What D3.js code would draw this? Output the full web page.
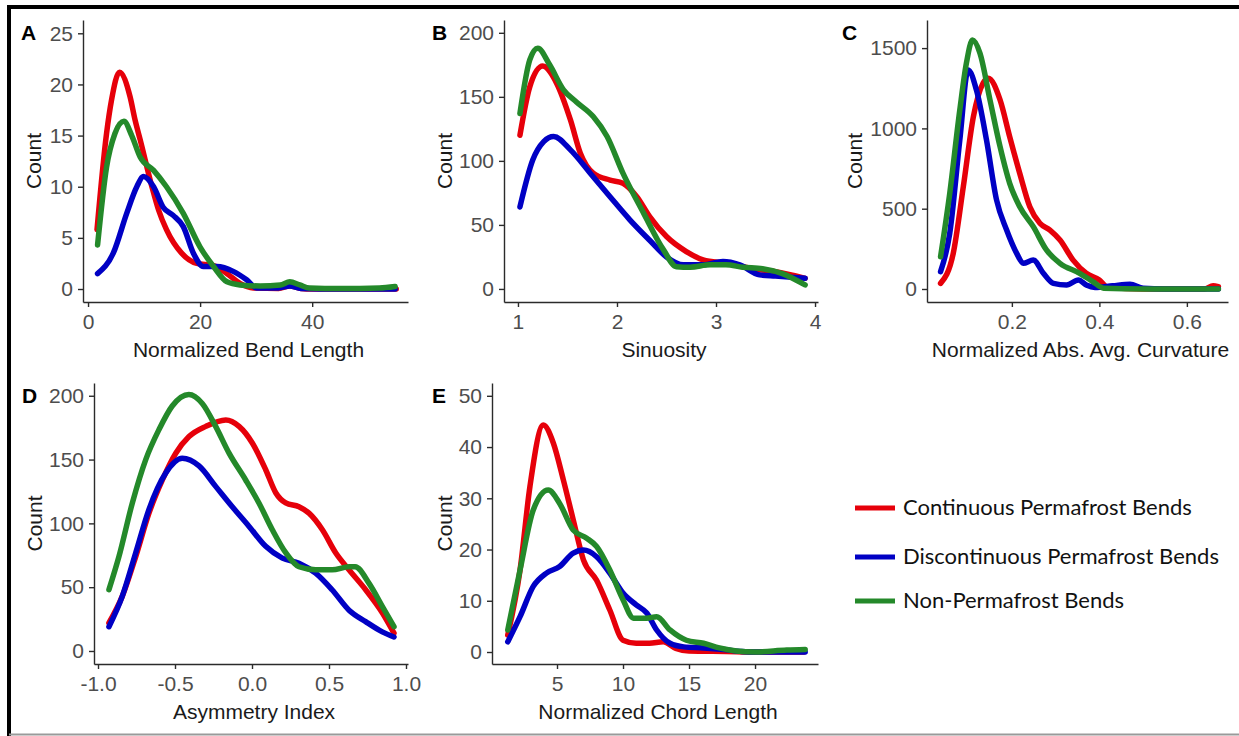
<!DOCTYPE html>
<html>
<head>
<meta charset="utf-8">
<script src="https://cdn.jsdelivr.net/npm/d3@7"></script>
<style>
  body { margin: 0; background: #fff; }
  svg { display: block; }
</style>
</head>
<body>
<svg id="chart" width="1239" height="736"></svg>
<script>
// Series labels and colours (drawn red, blue, then green on top)
const seriesLabels = ["Continuous Permafrost Bends", "Discontinuous Permafrost Bends", "Non-Permafrost Bends"];
const seriesColors = ["#e6000a", "#0000c4", "#24892a"];

// A - Normalized Bend Length, [x, count]
const bendRed = [[1.6,5.8],[3.3,15.2],[4.2,18.5],[5.6,21.2],[7.5,18.8],[8.4,16.5],[9.3,14.6],[11.4,10],[12.6,7.7],[14,5.8],[16.7,3.5],[19.4,2.5],[22.3,2.3],[24.8,1.5],[27.1,0.55],[29.5,0.1],[34,0.05],[36,0.3],[38,0.05],[40,0],[55,0]];
const bendBlue = [[1.7,1.5],[4.5,3.5],[6.9,7.4],[8.7,10],[9.9,11],[11.7,10],[13.4,8],[15.2,7.2],[17,6.1],[18.8,3.5],[20.6,2.2],[23,2.2],[26,1.7],[28.3,0.9],[30.1,0.1],[34,0.1],[36,0.3],[38,0.05],[45,0],[54.8,0]];
const bendGreen = [[1.7,4.3],[3.3,11.9],[4.8,15.2],[6.4,16.4],[7.8,15],[9.3,12.9],[11.7,11.6],[14,10],[17,7.4],[20,4.1],[22.4,2.2],[24.8,0.7],[27.1,0.4],[30.7,0.3],[34.3,0.4],[36,0.7],[37.8,0.4],[39.5,0.1],[45,0.05],[52,0.1],[54.8,0.25]];

// B - Sinuosity
const sinRed = [[1.02,120],[1.12,158],[1.25,174],[1.39,160.7],[1.53,132],[1.63,106],[1.76,90.4],[1.93,85],[2.06,82.5],[2.2,72],[2.33,56.5],[2.5,40.9],[2.7,29.2],[2.87,22.7],[3.1,20],[3.44,15],[3.6,13.5],[3.9,8.3]];
const sinBlue = [[1.02,64],[1.15,100.8],[1.26,115],[1.36,119],[1.53,108.6],[1.73,90.4],[1.93,72],[2.13,54],[2.33,38],[2.5,25],[2.67,18.8],[2.87,18.8],[3.07,21.4],[3.24,18.8],[3.44,11],[3.6,10],[3.9,8.3]];
const sinGreen = [[1.02,137],[1.12,179],[1.2,188],[1.32,175],[1.46,155.5],[1.59,146],[1.76,134.6],[1.9,119],[2.06,90.4],[2.27,59],[2.47,30.5],[2.6,17.4],[2.74,17],[2.94,18.8],[3.1,18.8],[3.27,17],[3.47,15.8],[3.67,12],[3.9,3.1]];

// C - Normalized Abs. Avg. Curvature
const curvRed = [[0.037,35],[0.066,222],[0.089,637],[0.112,1073],[0.134,1281],[0.146,1312],[0.173,1177],[0.195,948],[0.218,720],[0.241,512],[0.264,409],[0.287,367],[0.31,305],[0.34,180],[0.37,98],[0.4,56],[0.42,10],[0.5,0],[0.64,0],[0.66,20],[0.672,15]];
const curvBlue = [[0.037,108],[0.058,347],[0.081,928],[0.1,1364],[0.119,1239],[0.142,928],[0.165,554],[0.188,367],[0.211,222],[0.226,160],[0.249,180],[0.272,98],[0.295,35],[0.325,25],[0.352,56],[0.37,25],[0.39,10],[0.43,20],[0.47,30],[0.5,5],[0.55,0],[0.672,0]];
const curvGreen = [[0.037,201],[0.058,596],[0.081,1115],[0.096,1405],[0.11,1550],[0.127,1468],[0.15,1177],[0.173,886],[0.195,658],[0.218,512],[0.249,388],[0.279,243],[0.31,160],[0.355,98],[0.385,46],[0.41,5],[0.5,0],[0.672,0]];

// D - Asymmetry Index
const asymRed = [[-0.929,22],[-0.842,43],[-0.755,74],[-0.669,108],[-0.582,134],[-0.495,155],[-0.409,168],[-0.3,176],[-0.17,181],[-0.084,176],[0.002,163],[0.089,142],[0.154,124],[0.219,116],[0.305,113],[0.37,108],[0.457,95],[0.543,77],[0.63,63.6],[0.738,48],[0.846,30],[0.922,14]];
const asymBlue = [[-0.929,19],[-0.842,43],[-0.755,77],[-0.669,111],[-0.56,139.5],[-0.453,151],[-0.344,145],[-0.236,129],[-0.128,113],[-0.019,97.6],[0.089,82],[0.197,72.8],[0.305,68.8],[0.413,61],[0.52,48],[0.63,32],[0.738,23],[0.846,15],[0.922,11]];
const asymGreen = [[-0.929,48],[-0.864,74],[-0.777,116],[-0.69,150],[-0.604,173.5],[-0.518,192],[-0.41,201],[-0.323,194],[-0.236,176],[-0.149,155],[-0.041,134],[0.045,116],[0.132,95],[0.219,77],[0.305,66],[0.413,63.6],[0.52,63.6],[0.63,66],[0.67,66],[0.76,53],[0.846,35],[0.922,19]];

// E - Normalized Chord Length
const chordRed = [[1.27,3.3],[2.2,16],[2.95,32.3],[3.96,44.3],[4.72,40.8],[5.48,33.6],[6.23,25.8],[7,18],[8,14],[9,8.2],[10,2.3],[11,1.7],[12,1.7],[13.05,2],[14,0.7],[15,0.2],[17.8,0.1],[20,0],[23.7,0]];
const chordBlue = [[1.27,2],[2.2,6.9],[3.2,12.8],[4.2,15.4],[5.2,16.7],[6.23,19.3],[7,19.9],[8,18.6],[9,15.4],[10,11.5],[11,9.2],[11.8,7.6],[12.55,4.3],[13.56,1.7],[14.6,1],[16.1,0.8],[17.6,0.5],[19,0.1],[20,0],[23.8,0]];
const chordGreen = [[1.27,4.3],[2.2,16],[3.2,27.7],[4.34,31.6],[5.2,29],[6.23,23.8],[7.25,22.2],[8,20.6],[9,16],[10,10.2],[10.8,6.6],[11.8,6.6],[12.55,6.9],[13.56,4.3],[14.8,2.3],[16.1,1.7],[17.3,0.8],[18.6,0.2],[20,0],[22.4,0.4],[23.8,0.5]];

// Tick values
const bendXTicks = [0, 20, 40], bendYTicks = [0, 5, 10, 15, 20, 25];
const sinXTicks = [1, 2, 3, 4], sinYTicks = [0, 50, 100, 150, 200];
const curvXTicks = [0.2, 0.4, 0.6], curvYTicks = [0, 500, 1000, 1500];
const asymXTicks = [-1, -0.5, 0, 0.5, 1], asymYTicks = [0, 50, 100, 150, 200];
const chordXTicks = [5, 10, 15, 20], chordYTicks = [0, 10, 20, 30, 40, 50];

// plain hyphen for negatives, like the original figure
const fmt = spec => d => d3.format(spec)(d).replace("\u2212", "-");

// Panel layout (pixel boxes + visible domains)
const panels = [
  { tag: "A", xTitle: "Normalized Bend Length", series: [bendRed, bendBlue, bendGreen],
    box: { l: 83, r: 408, t: 20, b: 302 }, xDom: [-0.9, 57.1], yDom: [-1.27, 26.3],
    xTicks: bendXTicks, yTicks: bendYTicks, xFmt: fmt("d"), yTitleX: 41 },
  { tag: "B", xTitle: "Sinuosity", series: [sinRed, sinBlue, sinGreen],
    box: { l: 504, r: 818, t: 20, b: 302 }, xDom: [0.859, 4.03], yDom: [-10.2, 210],
    xTicks: sinXTicks, yTicks: sinYTicks, xFmt: fmt("d"), yTitleX: 452 },
  { tag: "C", xTitle: "Normalized Abs. Avg. Curvature", series: [curvRed, curvBlue, curvGreen],
    box: { l: 927, r: 1228, t: 20, b: 302 }, xDom: [0.006, 0.694], yDom: [-81, 1675],
    xTicks: curvXTicks, yTicks: curvYTicks, xFmt: fmt(".1f"), yTitleX: 862 },
  { tag: "D", xTitle: "Asymmetry Index", series: [asymRed, asymBlue, asymGreen],
    box: { l: 94, r: 408, t: 383, b: 664 }, xDom: [-1.026, 1.013], yDom: [-10.2, 210],
    xTicks: asymXTicks, yTicks: asymYTicks, xFmt: fmt(".1f"), yTitleX: 42 },
  { tag: "E", xTitle: "Normalized Chord Length", series: [chordRed, chordBlue, chordGreen],
    box: { l: 492, r: 818, t: 383, b: 664 }, xDom: [0.076, 24.77], yDom: [-2.34, 52.5],
    xTicks: chordXTicks, yTicks: chordYTicks, xFmt: fmt("d"), yTitleX: 452 },
];

const FONT = "'Liberation Sans', Arial, sans-serif";
const svg = d3.select("#chart");

// outer frame (top and left black, bottom faint)
svg.append("path").attr("d", "M9,736 V7 H1239").attr("fill", "none").attr("stroke", "#000").attr("stroke-width", 4);
svg.append("line").attr("x1", 9).attr("x2", 1239).attr("y1", 734.5).attr("y2", 734.5).attr("stroke", "#9a9a9a").attr("stroke-width", 2);

function drawPanel(p) {
  const g = svg.append("g");
  const x = d3.scaleLinear().domain(p.xDom).range([p.box.l, p.box.r]);
  const y = d3.scaleLinear().domain(p.yDom).range([p.box.b, p.box.t]);

  const styleAxis = sel => {
    sel.select(".domain").attr("stroke", "#2b2b2b").attr("stroke-width", 1.4);
    sel.selectAll(".tick line").attr("stroke", "#2b2b2b").attr("stroke-width", 1.4);
    sel.selectAll(".tick text").attr("fill", "#4d4d4d").style("font-family", FONT).style("font-size", "21px");
  };

  g.append("g").attr("transform", `translate(0,${p.box.b})`)
    .call(d3.axisBottom(x).tickValues(p.xTicks).tickFormat(p.xFmt).tickSize(5).tickSizeOuter(0).tickPadding(7))
    .call(styleAxis);

  g.append("g").attr("transform", `translate(${p.box.l},0)`)
    .call(d3.axisLeft(y).tickValues(p.yTicks).tickFormat(fmt("d")).tickSize(5).tickSizeOuter(0).tickPadding(5))
    .call(styleAxis);

  const line = d3.line().x(d => x(d[0])).y(d => y(d[1])).curve(d3.curveMonotoneX);
  g.selectAll("path.series")
    .data(p.series)
    .join("path")
    .attr("class", "series")
    .attr("fill", "none")
    .attr("stroke", (d, i) => seriesColors[i])
    .attr("stroke-width", 5.5)
    .attr("stroke-linejoin", "round")
    .attr("stroke-linecap", "round")
    .attr("d", line);

  // titles
  g.append("text")
    .attr("x", (p.box.l + p.box.r) / 2 + 3).attr("y", p.box.b + 55)
    .attr("text-anchor", "middle")
    .style("font-family", FONT).style("font-size", "21px").attr("fill", "#1a1a1a")
    .text(p.xTitle);

  g.append("text")
    .attr("transform", `translate(${p.yTitleX},${(p.box.t + p.box.b) / 2}) rotate(-90)`)
    .attr("text-anchor", "middle")
    .style("font-family", FONT).style("font-size", "21px").attr("fill", "#1a1a1a")
    .text("Count");

  g.append("text")
    .attr("x", p.yTitleX - 20).attr("y", p.box.t + 20)
    .style("font-family", FONT).style("font-size", "21px").style("font-weight", "bold")
    .attr("fill", "#000")
    .text(p.tag);
}

panels.forEach(drawPanel);

// legend
const legend = svg.append("g").attr("transform", "translate(855,508)");
const rows = legend.selectAll("g").data(seriesLabels).join("g")
  .attr("transform", (d, i) => `translate(0,${[0, 49, 93][i]})`);
rows.append("line").attr("x1", 0).attr("x2", 40)
  .attr("stroke", (d, i) => seriesColors[i]).attr("stroke-width", 5);
rows.append("text").attr("x", 48).attr("y", 7)
  .style("font-family", "Lato, 'Open Sans', sans-serif").style("font-size", "22px")
  .attr("fill", "#111")
  .text(d => d);
</script>
</body>
</html>
